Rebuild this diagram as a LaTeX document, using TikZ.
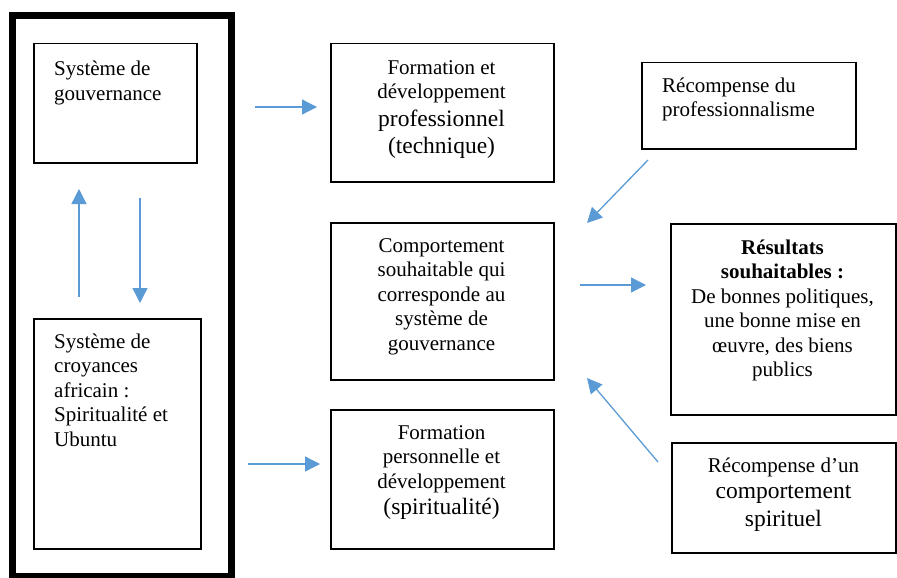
\documentclass[tikz,border=0pt]{standalone}
\usepackage{fontspec}
\setmainfont{Liberation Serif}
\newfontfamily\bigrm{Liberation Serif}
\usetikzlibrary{arrows.meta}
\definecolor{arrblue}{RGB}{91,155,213}
\newcommand{\nsz}{\rmfamily\fontsize{21}{24.5}\selectfont}
\newcommand{\bsz}{\bigrm\fontsize{23.5}{28}\selectfont}
\begin{document}
\begin{tikzpicture}[x=1pt,y=-1pt,
  box/.style={draw=black, line width=1.5pt, inner sep=0pt, anchor=north west},
  txt/.style={inner sep=0pt, font=\nsz},
  arr/.style={draw=arrblue, line width=1.3pt, -{Triangle[length=15pt,width=15pt]}}]
\useasboundingbox (0,0) rectangle (897,578);
% outer frame
\node[box, line width=7pt, minimum width=219pt, minimum height=561pt] (frame) at (9,12) {};
% boxes
\node[box, minimum width=163pt, minimum height=119pt] (gov) at (33,43) {};
\node[box, minimum width=167pt, minimum height=230pt] (bel) at (33,318) {};
\node[box, minimum width=223pt, minimum height=138pt] (ftech) at (330,43) {};
\node[box, minimum width=223pt, minimum height=157pt] (comp) at (330,222) {};
\node[box, minimum width=223pt, minimum height=139pt] (fpers) at (330,409) {};
\node[box, minimum width=214pt, minimum height=86pt] (rprof) at (641,62) {};
\node[box, minimum width=225pt, minimum height=191pt] (res) at (670,223) {};
\node[box, minimum width=224pt, minimum height=110pt] (rspir) at (671,442) {};
% texts
\node[txt, anchor=north west, align=left] (govtxt) at (54,58.5) {\strut Système de\\gouvernance};
\node[txt, anchor=north west, align=left] (beltxt) at (54,330.85) {\strut Système de\\croyances\\africain :\\Spiritualité et\\Ubuntu};
\node[txt, anchor=north, align=center] (ftechtxt) at (441.5,56.85) {\strut Formation et\\développement\\[3.5pt]{\bsz professionnel}\\[2.5pt]{\bsz (technique)}};
\node[txt, anchor=north, align=center] (comptxt) at (441.5,234.85) {\strut Comportement\\souhaitable qui\\corresponde au\\système de\\gouvernance};
\node[txt, anchor=north, align=center] (fperstxt) at (441.5,421.85) {\strut Formation\\personnelle et\\développement\\[1.5pt]{\bsz (spiritualité)}};
\node[txt, anchor=north west, align=left] (rproftxt) at (662,74.85) {\strut Récompense du\\professionnalisme};
\node[txt, anchor=north, align=center] (restxt) at (782.5,236.85) {\strut\textbf{Résultats}\\\textbf{souhaitables :}\\De bonnes politiques,\\une bonne mise en\\œuvre, des biens\\publics};
\node[txt, anchor=north, align=center] (rspirtxt) at (783.5,454.85) {\strut Récompense d’un\\[1.5pt]{\bsz comportement}\\[3.5pt]{\bsz spirituel}};
% arrow end points
\coordinate (a1s) at (79,297);  \coordinate (a1e) at (79,189);
\coordinate (a2s) at (140,198); \coordinate (a2e) at (140,303);
\coordinate (a3s) at (255,107); \coordinate (a3e) at (317,107);
\coordinate (a4s) at (248,464); \coordinate (a4e) at (320,464);
\coordinate (a5s) at (648,160); \coordinate (a5e) at (587,223);
\coordinate (a6s) at (580,285); \coordinate (a6e) at (646,285);
\coordinate (a7s) at (658,462); \coordinate (a7e) at (587,378);
\draw[arr] (a1s) -- (a1e);
\draw[arr] (a2s) -- (a2e);
\draw[arr] (a3s) -- (a3e);
\draw[arr] (a4s) -- (a4e);
\draw[arr] (a5s) -- (a5e);
\draw[arr] (a6s) -- (a6e);
\draw[arr] (a7s) -- (a7e);
\end{tikzpicture}
\end{document}
